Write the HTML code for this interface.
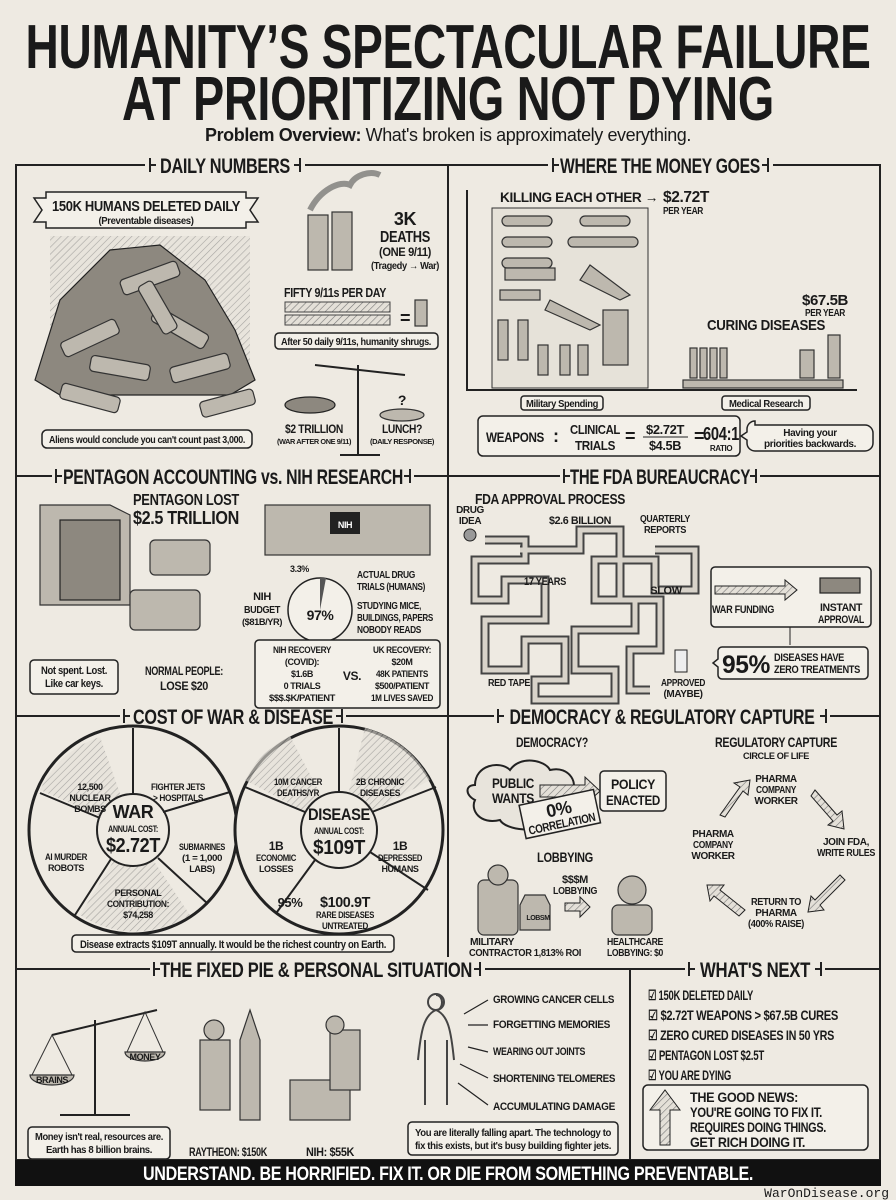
<!DOCTYPE html>
<html><head><meta charset="utf-8"><style>
html,body{margin:0;padding:0;background:#eeeae2}
svg{display:block}
text{font-family:"Liberation Sans Narrow","Liberation Sans",sans-serif;font-weight:bold;fill:#1a1a1a;letter-spacing:-0.4px}
.c{text-anchor:middle}
.box{fill:#f3f0e9;stroke:#222;stroke-width:1.5}
.ill{fill:#bdb8ae;stroke:#333;stroke-width:1.2}
.dk{fill:#8d887f;stroke:#222;stroke-width:1.2}
.ln{stroke:#222;stroke-width:2;fill:none}
</style></head><body>
<svg width="896" height="1200" viewBox="0 0 896 1200" xmlns="http://www.w3.org/2000/svg">
<defs>
<pattern id="h" width="5" height="5" patternUnits="userSpaceOnUse" patternTransform="rotate(45)"><rect width="5" height="5" fill="#e4e0d8"/><line x1="0" y1="0" x2="0" y2="5" stroke="#777" stroke-width="1.2"/></pattern>
</defs>
<rect width="896" height="1200" fill="#eeeae2"/>
<!-- Title -->
<text x="448" y="68" class="c" font-size="62" textLength="845" lengthAdjust="spacingAndGlyphs">HUMANITY’S SPECTACULAR FAILURE</text>
<text x="448" y="120" class="c" font-size="62" textLength="652" lengthAdjust="spacingAndGlyphs">AT PRIORITIZING NOT DYING</text>
<text x="448" y="141" class="c" font-size="18" textLength="486" lengthAdjust="spacingAndGlyphs">Problem Overview: <tspan font-weight="normal">What's broken is approximately everything.</tspan></text>

<!-- Frame -->
<rect x="16" y="165" width="864" height="995" fill="none" stroke="#222" stroke-width="2"/>
<line x1="448" y1="165" x2="448" y2="969" stroke="#222" stroke-width="2"/>
<line x1="16" y1="476" x2="880" y2="476" stroke="#222" stroke-width="2"/>
<line x1="16" y1="716" x2="880" y2="716" stroke="#222" stroke-width="2"/>
<line x1="16" y1="969" x2="880" y2="969" stroke="#222" stroke-width="2"/>
<line x1="630" y1="969" x2="630" y2="1160" stroke="#222" stroke-width="2"/>

<!-- Section headers -->
<g font-size="21">
<rect x="145" y="153" width="160" height="24" fill="#eeeae2"/><text x="225" y="173" class="c" textLength="130" lengthAdjust="spacingAndGlyphs">DAILY NUMBERS</text>
<path d="M150 158v14M150 165h6M300 158v14M300 165h-6" class="ln" stroke-width="1.5"/>
<rect x="548" y="153" width="225" height="24" fill="#eeeae2"/><text x="660" y="173" class="c" textLength="200" lengthAdjust="spacingAndGlyphs">WHERE THE MONEY GOES</text>
<path d="M553 158v14M553 165h6M768 158v14M768 165h-6" class="ln" stroke-width="1.5"/>
<rect x="52" y="464" width="362" height="24" fill="#eeeae2"/><text x="233" y="484" class="c" textLength="340" lengthAdjust="spacingAndGlyphs">PENTAGON ACCOUNTING vs. NIH RESEARCH</text>
<path d="M56 469v14M56 476h6M410 469v14M410 476h-6" class="ln" stroke-width="1.5"/>
<rect x="560" y="464" width="200" height="24" fill="#eeeae2"/><text x="660" y="484" class="c" textLength="180" lengthAdjust="spacingAndGlyphs">THE FDA BUREAUCRACY</text>
<path d="M564 469v14M564 476h6M756 469v14M756 476h-6" class="ln" stroke-width="1.5"/>
<rect x="120" y="704" width="226" height="24" fill="#eeeae2"/><text x="233" y="724" class="c" textLength="200" lengthAdjust="spacingAndGlyphs">COST OF WAR &amp; DISEASE</text>
<path d="M124 709v14M124 716h6M342 709v14M342 716h-6" class="ln" stroke-width="1.5"/>
<rect x="494" y="704" width="336" height="24" fill="#eeeae2"/><text x="662" y="724" class="c" textLength="305" lengthAdjust="spacingAndGlyphs">DEMOCRACY &amp; REGULATORY CAPTURE</text>
<path d="M498 709v14M498 716h6M826 709v14M826 716h-6" class="ln" stroke-width="1.5"/>
<rect x="150" y="957" width="335" height="24" fill="#eeeae2"/><text x="316" y="977" class="c" textLength="312" lengthAdjust="spacingAndGlyphs">THE FIXED PIE &amp; PERSONAL SITUATION</text>
<path d="M154 962v14M154 969h6M480 962v14M480 969h-6" class="ln" stroke-width="1.5"/>
<rect x="685" y="957" width="140" height="24" fill="#eeeae2"/><text x="755" y="977" class="c" textLength="110" lengthAdjust="spacingAndGlyphs">WHAT'S NEXT</text>
<path d="M689 962v14M689 969h6M821 962v14M821 969h-6" class="ln" stroke-width="1.5"/>
</g>

<!-- DAILY NUMBERS -->
<path d="M34 198h12v-6h200v6h12l-8 12 8 12h-12v6H46v-6H34l8-12z" class="box"/>
<text x="146" y="211" class="c" font-size="15" textLength="188" lengthAdjust="spacingAndGlyphs">150K HUMANS DELETED DAILY</text>
<text x="146" y="224" class="c" font-size="10" font-weight="normal" textLength="95" lengthAdjust="spacingAndGlyphs">(Preventable diseases)</text>
<rect x="50" y="236" width="200" height="150" fill="url(#h)" opacity="0.6"/>
<path d="M35 380 L60 300 L110 250 L160 245 L205 280 L235 330 L255 380 L230 395 L60 395 Z" class="dk"/>
<g class="ill"><rect x="60" y="330" width="60" height="16" rx="4" transform="rotate(-25 90 338)"/><rect x="120" y="270" width="60" height="16" rx="4" transform="rotate(-20 150 278)"/><rect x="150" y="320" width="60" height="16" rx="4" transform="rotate(30 180 328)"/><rect x="90" y="360" width="60" height="16" rx="4" transform="rotate(10 120 368)"/><rect x="170" y="360" width="60" height="16" rx="4" transform="rotate(-15 200 368)"/><rect x="60" y="390" width="60" height="16" rx="4" transform="rotate(15 90 398)"/><rect x="200" y="395" width="55" height="16" rx="4" transform="rotate(-15 228 403)"/><rect x="130" y="300" width="55" height="16" rx="4" transform="rotate(60 158 308)"/></g>
<rect x="42" y="430" width="210" height="18" rx="5" class="box"/>
<text x="147" y="443" class="c" font-size="10.5" font-weight="normal" textLength="196" lengthAdjust="spacingAndGlyphs">Aliens would conclude you can't count past 3,000.</text>
<g class="ill"><rect x="308" y="215" width="20" height="55"/><rect x="332" y="212" width="20" height="58"/></g>
<path d="M310 210c10-20 30-30 40-25c5-10 20-15 30-10" stroke="#555" stroke-width="6" fill="none" opacity="0.6"/>
<text x="405" y="225" class="c" font-size="18">3K</text>
<text x="405" y="242" class="c" font-size="16" textLength="50" lengthAdjust="spacingAndGlyphs">DEATHS</text>
<text x="405" y="256" class="c" font-size="12" textLength="52" lengthAdjust="spacingAndGlyphs">(ONE 9/11)</text>
<text x="405" y="269" class="c" font-size="10" font-weight="normal" textLength="68" lengthAdjust="spacingAndGlyphs">(Tragedy → War)</text>
<text x="335" y="297" class="c" font-size="13" textLength="102" lengthAdjust="spacingAndGlyphs">FIFTY 9/11s PER DAY</text>
<rect x="285" y="302" width="105" height="10" fill="url(#h)" stroke="#444"/><rect x="285" y="315" width="105" height="10" fill="url(#h)" stroke="#444"/>
<text x="400" y="324" font-size="18">=</text><rect x="415" y="300" width="12" height="26" class="ill"/>
<rect x="275" y="333" width="163" height="16" rx="4" class="box"/>
<text x="356" y="345" class="c" font-size="10" font-weight="normal" textLength="150" lengthAdjust="spacingAndGlyphs">After 50 daily 9/11s, humanity shrugs.</text>
<path d="M315 365L405 375M358 365v90M340 455h40" class="ln"/>
<ellipse cx="310" cy="405" rx="25" ry="8" class="dk"/><ellipse cx="402" cy="415" rx="22" ry="6" class="ill"/>
<text x="402" y="405" class="c" font-size="14">?</text>
<text x="314" y="433" class="c" font-size="12" textLength="58" lengthAdjust="spacingAndGlyphs">$2 TRILLION</text>
<text x="314" y="444" class="c" font-size="7" textLength="74" lengthAdjust="spacingAndGlyphs">(WAR AFTER ONE 9/11)</text>
<text x="402" y="433" class="c" font-size="12" textLength="40" lengthAdjust="spacingAndGlyphs">LUNCH?</text>
<text x="402" y="444" class="c" font-size="7" textLength="64" lengthAdjust="spacingAndGlyphs">(DAILY RESPONSE)</text>

<!-- WHERE THE MONEY GOES -->
<path d="M467 190v200h390" class="ln"/>
<text x="500" y="202" font-size="14" textLength="158" lengthAdjust="spacingAndGlyphs">KILLING EACH OTHER →</text><text x="663" y="202" font-size="16" textLength="46" lengthAdjust="spacingAndGlyphs">$2.72T</text>
<text x="663" y="214" font-size="10" textLength="40" lengthAdjust="spacingAndGlyphs">PER YEAR</text>
<rect x="492" y="208" width="156" height="180" fill="#e6e2d9" stroke="#333"/>
<g class="ill"><rect x="502" y="216" width="50" height="10" rx="5"/><rect x="580" y="216" width="50" height="10" rx="5"/><rect x="502" y="237" width="50" height="10" rx="5"/><rect x="568" y="237" width="70" height="10" rx="5"/><rect x="502" y="258" width="50" height="10" rx="5"/><rect x="505" y="268" width="50" height="12"/><rect x="500" y="290" width="40" height="10"/><path d="M590 265l40 30-10 5-40-20z"/><path d="M550 300l50 25-10 5-45-20z"/><rect x="498" y="320" width="10" height="40"/><rect x="518" y="320" width="10" height="40"/><rect x="538" y="345" width="10" height="30"/><rect x="560" y="345" width="10" height="30"/><rect x="578" y="345" width="10" height="30"/><rect x="603" y="310" width="25" height="55"/></g>
<rect x="521" y="396" width="82" height="14" rx="3" class="box"/><text x="562" y="407" class="c" font-size="10" font-weight="normal" textLength="72" lengthAdjust="spacingAndGlyphs">Military Spending</text>
<text x="825" y="305" class="c" font-size="15" textLength="46" lengthAdjust="spacingAndGlyphs">$67.5B</text><text x="825" y="316" class="c" font-size="10" textLength="40" lengthAdjust="spacingAndGlyphs">PER YEAR</text>
<text x="766" y="330" class="c" font-size="15" textLength="118" lengthAdjust="spacingAndGlyphs">CURING DISEASES</text>
<rect x="683" y="380" width="160" height="8" class="ill"/>
<g class="ill"><rect x="690" y="348" width="7" height="30"/><rect x="700" y="348" width="7" height="30"/><rect x="710" y="348" width="7" height="30"/><rect x="720" y="348" width="7" height="30"/><rect x="800" y="350" width="14" height="28"/><rect x="828" y="335" width="12" height="43"/></g>
<rect x="722" y="396" width="88" height="14" rx="3" class="box"/><text x="766" y="407" class="c" font-size="10" font-weight="normal" textLength="74" lengthAdjust="spacingAndGlyphs">Medical Research</text>
<rect x="478" y="416" width="262" height="40" rx="5" class="box"/>
<text x="486" y="442" font-size="14" textLength="58" lengthAdjust="spacingAndGlyphs">WEAPONS</text><text x="553" y="442" font-size="18">:</text>
<text x="595" y="434" class="c" font-size="13" textLength="50" lengthAdjust="spacingAndGlyphs">CLINICAL</text><text x="595" y="450" class="c" font-size="13" textLength="40" lengthAdjust="spacingAndGlyphs">TRIALS</text>
<text x="625" y="442" font-size="18">=</text>
<text x="665" y="434" class="c" font-size="13" textLength="38" lengthAdjust="spacingAndGlyphs">$2.72T</text><line x1="643" y1="437" x2="688" y2="437" stroke="#222"/><text x="665" y="450" class="c" font-size="13" textLength="32" lengthAdjust="spacingAndGlyphs">$4.5B</text>
<text x="694" y="442" font-size="18">=</text>
<text x="721" y="440" class="c" font-size="18" textLength="36" lengthAdjust="spacingAndGlyphs">604:1</text><text x="721" y="451" class="c" font-size="8">RATIO</text>
<path d="M755 425h110a8 8 0 0 1 8 8v10a8 8 0 0 1-8 8H755a8 8 0 0 1-8-8v-3l-6-4 6-4v-3a8 8 0 0 1 8-8z" class="box"/>
<text x="810" y="436" class="c" font-size="10" font-weight="normal">Having your</text><text x="810" y="447" class="c" font-size="10" font-weight="normal" textLength="92" lengthAdjust="spacingAndGlyphs">priorities backwards.</text>

<!-- PENTAGON -->
<path d="M40 505h70l20 10v90H40z" class="ill"/><rect x="60" y="520" width="60" height="80" class="dk"/>
<text x="186" y="505" class="c" font-size="16" textLength="106" lengthAdjust="spacingAndGlyphs">PENTAGON LOST</text><text x="186" y="524" class="c" font-size="18" textLength="106" lengthAdjust="spacingAndGlyphs">$2.5 TRILLION</text>
<rect x="150" y="540" width="60" height="35" class="ill" rx="5"/>
<rect x="130" y="590" width="70" height="40" class="ill" rx="5"/>
<rect x="30" y="660" width="88" height="34" rx="4" class="box"/>
<text x="74" y="674" class="c" font-size="11" textLength="66" lengthAdjust="spacingAndGlyphs">Not spent. Lost.</text><text x="74" y="687" class="c" font-size="11" textLength="58" lengthAdjust="spacingAndGlyphs">Like car keys.</text>
<text x="184" y="675" class="c" font-size="12" textLength="78" lengthAdjust="spacingAndGlyphs">NORMAL PEOPLE:</text><text x="184" y="690" class="c" font-size="12" textLength="48" lengthAdjust="spacingAndGlyphs">LOSE $20</text>
<rect x="265" y="505" width="165" height="50" class="ill"/><rect x="330" y="512" width="30" height="22" fill="#222"/><text x="345" y="528" class="c" font-size="9" style="fill:#fff">NIH</text>
<text x="290" y="572" font-size="9">3.3%</text>
<circle cx="320" cy="610" r="32" class="box"/><path d="M320 610V578a32 32 0 0 1 6 0z" fill="#555"/>
<text x="320" y="620" class="c" font-size="14">97%</text>
<text x="262" y="600" class="c" font-size="11">NIH</text><text x="262" y="613" class="c" font-size="10" textLength="36" lengthAdjust="spacingAndGlyphs">BUDGET</text><text x="262" y="625" class="c" font-size="9" textLength="40" lengthAdjust="spacingAndGlyphs">($81B/YR)</text>
<text x="357" y="578" font-size="10" textLength="58" lengthAdjust="spacingAndGlyphs">ACTUAL DRUG</text><text x="357" y="590" font-size="10" textLength="68" lengthAdjust="spacingAndGlyphs">TRIALS (HUMANS)</text>
<text x="357" y="609" font-size="10" textLength="64" lengthAdjust="spacingAndGlyphs">STUDYING MICE,</text><text x="357" y="621" font-size="10" textLength="76" lengthAdjust="spacingAndGlyphs">BUILDINGS, PAPERS</text><text x="357" y="633" font-size="10" textLength="64" lengthAdjust="spacingAndGlyphs">NOBODY READS</text>
<rect x="255" y="640" width="185" height="68" rx="4" class="box"/>
<g font-size="9" class="c"><text x="302" y="653" textLength="58" lengthAdjust="spacingAndGlyphs">NIH RECOVERY</text><text x="302" y="665">(COVID):</text><text x="302" y="677">$1.6B</text><text x="302" y="689">0 TRIALS</text><text x="302" y="701" textLength="66" lengthAdjust="spacingAndGlyphs">$$$.$K/PATIENT</text>
<text x="352" y="680" font-size="12">VS.</text>
<text x="402" y="653" textLength="58" lengthAdjust="spacingAndGlyphs">UK RECOVERY:</text><text x="402" y="665">$20M</text><text x="402" y="677" textLength="52" lengthAdjust="spacingAndGlyphs">48K PATIENTS</text><text x="402" y="689" textLength="54" lengthAdjust="spacingAndGlyphs">$500/PATIENT</text><text x="402" y="701" textLength="62" lengthAdjust="spacingAndGlyphs">1M LIVES SAVED</text></g>

<!-- FDA -->
<text x="475" y="504" font-size="15" textLength="150" lengthAdjust="spacingAndGlyphs">FDA APPROVAL PROCESS</text>
<text x="470" y="513" class="c" font-size="10">DRUG</text><text x="470" y="524" class="c" font-size="10">IDEA</text>
<circle cx="470" cy="535" r="6" fill="#999" stroke="#222"/>
<path d="M485 540h40v20h-50v40h30v-20h40v40h-60v50h40v-30h40v40h-30v20h80v-30h-40v-40h60v-30h-40v-40h60v30h40v-40h-40M520 550h60v-20h40v70h40v50h-30v40h20" stroke="#444" stroke-width="9" fill="none"/>
<path d="M485 540h40v20h-50v40h30v-20h40v40h-60v50h40v-30h40v40h-30v20h80v-30h-40v-40h60v-30h-40v-40h60v30h40v-40h-40M520 550h60v-20h40v70h40v50h-30v40h20" stroke="#d8d3ca" stroke-width="5" fill="none"/>
<text x="580" y="524" class="c" font-size="11" textLength="62" lengthAdjust="spacingAndGlyphs">$2.6 BILLION</text>
<text x="665" y="522" class="c" font-size="10" textLength="50" lengthAdjust="spacingAndGlyphs">QUARTERLY</text><text x="665" y="533" class="c" font-size="10" textLength="42" lengthAdjust="spacingAndGlyphs">REPORTS</text>
<text x="545" y="585" class="c" font-size="11" textLength="42" lengthAdjust="spacingAndGlyphs">17 YEARS</text>
<text x="666" y="594" class="c" font-size="11">SLOW</text>
<text x="509" y="686" class="c" font-size="10" textLength="42" lengthAdjust="spacingAndGlyphs">RED TAPE</text>
<rect x="675" y="650" width="12" height="22" fill="#eee" stroke="#222"/>
<text x="683" y="686" class="c" font-size="10" textLength="44" lengthAdjust="spacingAndGlyphs">APPROVED</text><text x="683" y="697" class="c" font-size="10">(MAYBE)</text>
<rect x="711" y="567" width="160" height="60" rx="4" class="box"/>
<path d="M715 586h70v-6l12 10-12 10v-6h-70z" fill="url(#h)" stroke="#222"/>
<rect x="820" y="578" width="40" height="15" class="dk"/>
<text x="743" y="613" class="c" font-size="11" textLength="62" lengthAdjust="spacingAndGlyphs">WAR FUNDING</text>
<text x="841" y="611" class="c" font-size="11" textLength="42" lengthAdjust="spacingAndGlyphs">INSTANT</text><text x="841" y="623" class="c" font-size="11" textLength="46" lengthAdjust="spacingAndGlyphs">APPROVAL</text>
<line x1="790" y1="627" x2="790" y2="645" stroke="#222"/>
<path d="M722 647h142a4 4 0 0 1 4 4v24a4 4 0 0 1-4 4H722a4 4 0 0 1-4-4v-8l-5-4 5-4v-8a4 4 0 0 1 4-4z" class="box"/>
<text x="722" y="673" font-size="25" textLength="48" lengthAdjust="spacingAndGlyphs">95%</text>
<text x="774" y="661" font-size="11" textLength="70" lengthAdjust="spacingAndGlyphs">DISEASES HAVE</text><text x="774" y="673" font-size="11" textLength="86" lengthAdjust="spacingAndGlyphs">ZERO TREATMENTS</text>

<!-- COST OF WAR & DISEASE -->
<circle cx="133" cy="830" r="104" fill="#eeeae2" stroke="#222" stroke-width="3"/>
<path d="M40 790A100 100 0 0 1 100 737L133 830z M190 915A100 100 0 0 1 80 915L133 830z" fill="url(#h)" opacity="0.6"/>
<circle cx="133" cy="830" r="36" fill="#eeeae2" stroke="#222" stroke-width="2"/>
<path d="M133 794V728M163 812l67-20M158 858l50 46M111 859l-36 56M100 818l-60-25" class="ln"/>
<text x="133" y="818" class="c" font-size="18">WAR</text><text x="133" y="832" class="c" font-size="9" textLength="50" lengthAdjust="spacingAndGlyphs">ANNUAL COST:</text><text x="133" y="852" class="c" font-size="20" textLength="54" lengthAdjust="spacingAndGlyphs">$2.72T</text>
<g font-size="9" class="c"><text x="90" y="790">12,500</text><text x="90" y="801">NUCLEAR</text><text x="90" y="812">BOMBS</text>
<text x="178" y="790" textLength="54" lengthAdjust="spacingAndGlyphs">FIGHTER JETS</text><text x="178" y="801" textLength="50" lengthAdjust="spacingAndGlyphs">&gt; HOSPITALS</text>
<text x="202" y="850" textLength="46" lengthAdjust="spacingAndGlyphs">SUBMARINES</text><text x="202" y="861" textLength="40" lengthAdjust="spacingAndGlyphs">(1 = 1,000</text><text x="202" y="872">LABS)</text>
<text x="138" y="896">PERSONAL</text><text x="138" y="907" textLength="62" lengthAdjust="spacingAndGlyphs">CONTRIBUTION:</text><text x="138" y="918">$74,258</text>
<text x="66" y="860" textLength="42" lengthAdjust="spacingAndGlyphs">AI MURDER</text><text x="66" y="871">ROBOTS</text></g>
<circle cx="339" cy="830" r="104" fill="#eeeae2" stroke="#222" stroke-width="3"/>
<path d="M365 728A100 100 0 0 1 430 780L339 830z M245 780A100 100 0 0 1 290 736L339 830z" fill="url(#h)" opacity="0.6"/>
<circle cx="339" cy="830" r="38" fill="#eeeae2" stroke="#222" stroke-width="2"/>
<path d="M339 792V728M372 812l64-25M370 852l58 38M315 860l-38 52M305 812l-60-25" class="ln"/>
<text x="339" y="820" class="c" font-size="17" textLength="62" lengthAdjust="spacingAndGlyphs">DISEASE</text><text x="339" y="834" class="c" font-size="9" textLength="50" lengthAdjust="spacingAndGlyphs">ANNUAL COST:</text><text x="339" y="854" class="c" font-size="20" textLength="52" lengthAdjust="spacingAndGlyphs">$109T</text>
<g font-size="9" class="c"><text x="298" y="785" textLength="48" lengthAdjust="spacingAndGlyphs">10M CANCER</text><text x="298" y="796" textLength="42" lengthAdjust="spacingAndGlyphs">DEATHS/YR</text>
<text x="380" y="785" textLength="48" lengthAdjust="spacingAndGlyphs">2B CHRONIC</text><text x="380" y="796" textLength="40" lengthAdjust="spacingAndGlyphs">DISEASES</text>
<text x="276" y="850" font-size="12">1B</text><text x="276" y="861" textLength="40" lengthAdjust="spacingAndGlyphs">ECONOMIC</text><text x="276" y="872">LOSSES</text>
<text x="400" y="850" font-size="12">1B</text><text x="400" y="861" textLength="44" lengthAdjust="spacingAndGlyphs">DEPRESSED</text><text x="400" y="872">HUMANS</text>
<text x="290" y="907" font-size="13">95%</text><text x="345" y="907" font-size="15" textLength="50" lengthAdjust="spacingAndGlyphs">$100.9T</text><text x="345" y="918" textLength="58" lengthAdjust="spacingAndGlyphs">RARE DISEASES</text><text x="345" y="929" textLength="46" lengthAdjust="spacingAndGlyphs">UNTREATED</text></g>
<rect x="72" y="935" width="322" height="17" rx="4" class="box"/>
<text x="233" y="948" class="c" font-size="11" font-weight="normal" textLength="306" lengthAdjust="spacingAndGlyphs">Disease extracts $109T annually. It would be the richest country on Earth.</text>

<!-- DEMOCRACY -->
<text x="552" y="747" class="c" font-size="14" textLength="72" lengthAdjust="spacingAndGlyphs">DEMOCRACY?</text>
<path d="M475 785c0-20 25-25 35-15c10-15 35-10 40 0c20-5 30 15 20 25c10 10 0 30-20 25c-10 15-45 10-50 0c-20 5-30-10-25-20c-10-5-10-15 0-15z" fill="#e8e4dc" stroke="#222" stroke-width="2"/>
<text x="513" y="788" class="c" font-size="14" textLength="42" lengthAdjust="spacingAndGlyphs">PUBLIC</text><text x="513" y="803" class="c" font-size="14" textLength="42" lengthAdjust="spacingAndGlyphs">WANTS</text>
<path d="M540 785h45v-8l15 14-15 14v-8h-45z" fill="url(#h)" stroke="#222"/>
<rect x="600" y="771" width="66" height="40" rx="4" class="box"/>
<text x="633" y="789" class="c" font-size="14" textLength="44" lengthAdjust="spacingAndGlyphs">POLICY</text><text x="633" y="805" class="c" font-size="14" textLength="54" lengthAdjust="spacingAndGlyphs">ENACTED</text>
<g transform="rotate(-12 560 815)"><rect x="522" y="797" width="76" height="34" class="box"/><text x="560" y="815" class="c" font-size="18">0%</text><text x="560" y="828" class="c" font-size="12" textLength="68" lengthAdjust="spacingAndGlyphs">CORRELATION</text></g>
<text x="565" y="862" class="c" font-size="14" textLength="56" lengthAdjust="spacingAndGlyphs">LOBBYING</text>
<rect x="478" y="880" width="40" height="55" class="ill" rx="6"/><circle cx="498" cy="875" r="10" class="ill"/>
<path d="M525 895h20l5 10v25h-30v-25z" class="ill"/><text x="538" y="920" class="c" font-size="7">LOBSM</text>
<text x="575" y="883" class="c" font-size="11">$$$M</text><text x="575" y="894" class="c" font-size="10" textLength="44" lengthAdjust="spacingAndGlyphs">LOBBYING</text>
<path d="M565 903h15v-6l10 10-10 10v-6h-15z" fill="url(#h)" stroke="#222"/>
<circle cx="632" cy="890" r="14" class="ill"/><rect x="612" y="905" width="40" height="30" class="ill" rx="6"/>
<text x="492" y="945" class="c" font-size="10" textLength="44" lengthAdjust="spacingAndGlyphs">MILITARY</text><text x="525" y="956" class="c" font-size="10" textLength="112" lengthAdjust="spacingAndGlyphs">CONTRACTOR 1,813% ROI</text>
<text x="635" y="945" class="c" font-size="10" textLength="56" lengthAdjust="spacingAndGlyphs">HEALTHCARE</text><text x="635" y="956" class="c" font-size="10" textLength="56" lengthAdjust="spacingAndGlyphs">LOBBYING: $0</text>
<text x="776" y="747" class="c" font-size="14" textLength="122" lengthAdjust="spacingAndGlyphs">REGULATORY CAPTURE</text><text x="776" y="759" class="c" font-size="9" textLength="66" lengthAdjust="spacingAndGlyphs">CIRCLE OF LIFE</text>
<text x="776" y="782" class="c" font-size="10">PHARMA</text><text x="776" y="793" class="c" font-size="10" textLength="40" lengthAdjust="spacingAndGlyphs">COMPANY</text><text x="776" y="804" class="c" font-size="10">WORKER</text>
<text x="846" y="845" class="c" font-size="10" textLength="46" lengthAdjust="spacingAndGlyphs">JOIN FDA,</text><text x="846" y="856" class="c" font-size="10" textLength="58" lengthAdjust="spacingAndGlyphs">WRITE RULES</text>
<text x="776" y="905" class="c" font-size="10" textLength="50" lengthAdjust="spacingAndGlyphs">RETURN TO</text><text x="776" y="916" class="c" font-size="10">PHARMA</text><text x="776" y="927" class="c" font-size="10" textLength="56" lengthAdjust="spacingAndGlyphs">(400% RAISE)</text>
<text x="713" y="837" class="c" font-size="10">PHARMA</text><text x="713" y="848" class="c" font-size="10" textLength="40" lengthAdjust="spacingAndGlyphs">COMPANY</text><text x="713" y="859" class="c" font-size="10">WORKER</text>
<g fill="url(#h)" stroke="#222"><path d="M720 815l20-28-6-4 16-3-2 15-5-4-18 26z"/><path d="M815 790l22 25 5-4 2 18-16-4 5-4-22-25z"/><path d="M840 875l-25 25-4-4-3 16 16-2-4-5 25-25z"/><path d="M745 910l-25-20 4-5-17 0 3 16 4-5 25 20z"/></g>

<!-- FIXED PIE -->
<path d="M95 1020v95M60 1115h70M52 1035l105-25" class="ln"/>
<path d="M52 1035l-20 40h40z M145 1012l-18 40h36z" fill="none" stroke="#333"/>
<path d="M30 1075a22 10 0 0 0 44 0z" class="ill"/><path d="M125 1052a20 9 0 0 0 40 0z" class="ill"/>
<text x="52" y="1083" class="c" font-size="9">BRAINS</text><text x="145" y="1060" class="c" font-size="9">MONEY</text>
<rect x="28" y="1127" width="142" height="32" rx="4" class="box"/>
<text x="99" y="1140" class="c" font-size="10" font-weight="normal" textLength="128" lengthAdjust="spacingAndGlyphs">Money isn't real, resources are.</text><text x="99" y="1153" class="c" font-size="10" font-weight="normal" textLength="106" lengthAdjust="spacingAndGlyphs">Earth has 8 billion brains.</text>
<rect x="200" y="1040" width="30" height="70" class="ill"/><circle cx="214" cy="1030" r="10" class="ill"/>
<path d="M250 1010l10 30v80h-20v-80z" class="ill"/>
<rect x="290" y="1080" width="60" height="40" class="ill"/><rect x="330" y="1030" width="30" height="60" class="ill"/><circle cx="335" cy="1025" r="9" class="ill"/>
<text x="228" y="1156" class="c" font-size="12" textLength="78" lengthAdjust="spacingAndGlyphs">RAYTHEON: $150K</text><text x="330" y="1156" class="c" font-size="12" textLength="48" lengthAdjust="spacingAndGlyphs">NIH: $55K</text>
<path d="M436 995c8 0 8 15 0 15c-12 5-15 20-18 50M436 1010c12 5 15 20 18 50M425 1040v65M447 1040v65" stroke="#444" stroke-width="2" fill="none"/>
<circle cx="436" cy="1002" r="8" fill="none" stroke="#444" stroke-width="2"/>
<g font-size="11"><text x="493" y="1003" textLength="121" lengthAdjust="spacingAndGlyphs">GROWING CANCER CELLS</text><text x="493" y="1028" textLength="117" lengthAdjust="spacingAndGlyphs">FORGETTING MEMORIES</text><text x="493" y="1055" textLength="92" lengthAdjust="spacingAndGlyphs">WEARING OUT JOINTS</text><text x="493" y="1082" textLength="122" lengthAdjust="spacingAndGlyphs">SHORTENING TELOMERES</text><text x="493" y="1110" textLength="122" lengthAdjust="spacingAndGlyphs">ACCUMULATING DAMAGE</text></g>
<path d="M488 1000l-24 14M488 1025h-20M488 1052l-20-5M488 1078l-28-14M488 1105l-30-22" stroke="#222" stroke-width="1.2" fill="none"/>
<rect x="408" y="1122" width="210" height="33" rx="4" class="box"/>
<text x="513" y="1136" class="c" font-size="10" font-weight="normal" textLength="196" lengthAdjust="spacingAndGlyphs">You are literally falling apart. The technology to</text><text x="513" y="1149" class="c" font-size="10" font-weight="normal" textLength="196" lengthAdjust="spacingAndGlyphs">fix this exists, but it's busy building fighter jets.</text>

<!-- WHAT'S NEXT -->
<g font-size="14"><text x="648" y="1000" textLength="105" lengthAdjust="spacingAndGlyphs">☑ 150K DELETED DAILY</text><text x="648" y="1020" textLength="190" lengthAdjust="spacingAndGlyphs">☑ $2.72T WEAPONS &gt; $67.5B CURES</text><text x="648" y="1040" textLength="186" lengthAdjust="spacingAndGlyphs">☑ ZERO CURED DISEASES IN 50 YRS</text><text x="648" y="1060" textLength="116" lengthAdjust="spacingAndGlyphs">☑ PENTAGON LOST $2.5T</text><text x="648" y="1080" textLength="83" lengthAdjust="spacingAndGlyphs">☑ YOU ARE DYING</text></g>
<rect x="643" y="1085" width="225" height="65" rx="5" class="box"/>
<path d="M660 1145v-35h-10l15-20 15 20h-10v35z" fill="url(#h)" stroke="#222"/>
<g font-size="14"><text x="690" y="1102" textLength="108" lengthAdjust="spacingAndGlyphs">THE GOOD NEWS:</text><text x="690" y="1117" textLength="132" lengthAdjust="spacingAndGlyphs">YOU'RE GOING TO FIX IT.</text><text x="690" y="1132" textLength="136" lengthAdjust="spacingAndGlyphs">REQUIRES DOING THINGS.</text><text x="690" y="1147" textLength="115" lengthAdjust="spacingAndGlyphs">GET RICH DOING IT.</text></g>

<!-- Bottom bar -->
<rect x="15" y="1160" width="866" height="26" fill="#111"/>
<text x="448" y="1180" class="c" font-size="19" style="fill:#fff" textLength="610" lengthAdjust="spacingAndGlyphs">UNDERSTAND. BE HORRIFIED. FIX IT. OR DIE FROM SOMETHING PREVENTABLE.</text>
<text x="889" y="1197" style="font-family:'Liberation Mono',monospace;font-weight:normal;letter-spacing:0" font-size="13" text-anchor="end">WarOnDisease.org</text>
</svg>
</body></html>
